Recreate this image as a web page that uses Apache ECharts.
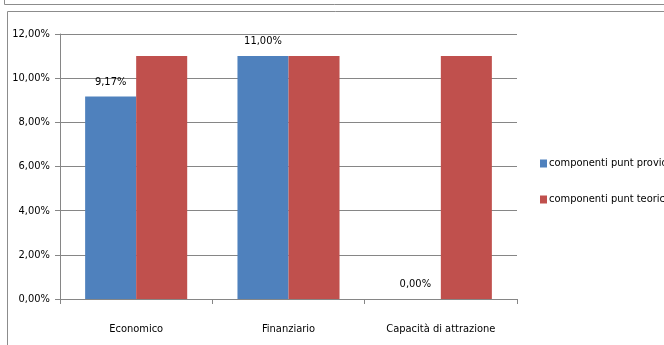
<!DOCTYPE html>
<html>
<head>
<meta charset="utf-8">
<script src="https://cdn.jsdelivr.net/npm/echarts@6/dist/echarts.min.js"></script>
<style>
  html, body { margin: 0; padding: 0; background: #fff; }
  #chart { width: 664px; height: 345px; }
</style>
</head>
<body>
<div id="chart"></div>
<script>
var categories = ['Economico', 'Finanziario', 'Capacità di attrazione'];
var providerValues = [9.17, 11.0, 0.0];
var teoricoValues = [11.0, 11.0, 11.0];
var seriesNames = ['componenti punt provider', 'componenti punt teorico'];

var font = '"DejaVu Sans Condensed", "Liberation Sans Narrow", sans-serif';
var fs = 11;

function pct(v) {
  return v.toFixed(2).replace('.', ',') + '%';
}

var chart = echarts.init(document.getElementById('chart'));

var option = {
  animation: false,
  textStyle: { fontFamily: font },
  graphic: [
    { type: 'polyline', shape: { points: [[4.5, 0], [4.5, 4.5], [664, 4.5]] },
      style: { stroke: '#8c8c8c', fill: null, lineWidth: 1 } },
    { type: 'polyline', shape: { points: [[7.5, 345], [7.5, 11.5], [664, 11.5]] },
      style: { stroke: '#8c8c8c', fill: null, lineWidth: 1 } }
  ],
  grid: { left: 60, top: 34, width: 457, height: 265, containLabel: false },
  legend: {
    orient: 'vertical',
    left: 535,
    top: 153,
    itemWidth: 7,
    itemHeight: 8,
    itemGap: 25,
    icon: 'rect',
    textStyle: { fontFamily: font, fontSize: fs, color: '#000', padding: [0, 0, 0, -3] },
    data: seriesNames
  },
  xAxis: {
    type: 'category',
    data: categories,
    axisLine: { lineStyle: { color: '#868686' } },
    axisTick: { show: true, alignWithLabel: false, length: 5, lineStyle: { color: '#868686' } },
    axisLabel: { color: '#000', fontSize: fs, fontFamily: font, margin: 25 }
  },
  yAxis: {
    type: 'value',
    min: 0,
    max: 12,
    interval: 2,
    axisLine: { show: true, lineStyle: { color: '#868686' } },
    axisTick: { show: true, length: 5, lineStyle: { color: '#868686' } },
    splitLine: { lineStyle: { color: '#868686' } },
    axisLabel: { color: '#000', fontSize: fs, fontFamily: font, margin: 10, formatter: pct }
  },
  series: [
    {
      name: seriesNames[0],
      type: 'bar',
      data: providerValues,
      barGap: '0%',
      barCategoryGap: '33%',
      itemStyle: { color: '#4F81BD' },
      label: { show: true, position: 'top', distance: 9, color: '#000', fontSize: fs,
        fontFamily: font, formatter: function (p) { return pct(p.value); } }
    },
    {
      name: seriesNames[1],
      type: 'bar',
      data: teoricoValues,
      itemStyle: { color: '#C0504D' }
    }
  ]
};

chart.setOption(option);
</script>
</body>
</html>
